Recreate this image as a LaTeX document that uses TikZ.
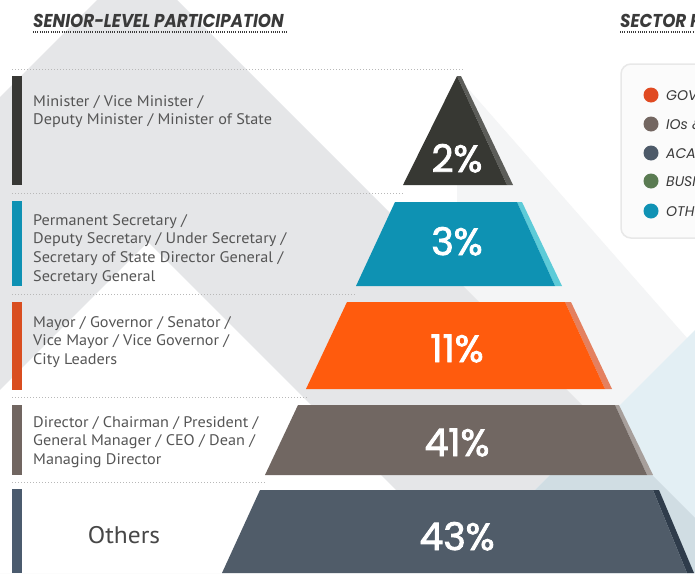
\documentclass[tikz,border=0pt]{standalone}
\usepackage{fontspec}
\setmainfont{PT Sans}
\newfontfamily\pctfont{Poppins}[FakeBold=2.2]
\newfontfamily\headfont{Poppins}[FakeStretch=0.9]
\newfontfamily\legfont{Poppins}
\newfontfamily\lblfont{PT Sans}[FakeStretch=1.06]
\definecolor{shadowc}{HTML}{F4F5F6}
\definecolor{bandc}{HTML}{E5E6E8}
\definecolor{bluec}{HTML}{E3EFF4}
\definecolor{overc}{HTML}{D0DDE3}
\definecolor{dotc}{HTML}{B8B8B8}
\definecolor{labelc}{HTML}{555555}
\definecolor{headc}{HTML}{3A3A3A}
\definecolor{tA}{HTML}{373833}\definecolor{sA}{HTML}{5C5D59}
\definecolor{tB}{HTML}{0E92B3}\definecolor{sB}{HTML}{5DCBD8}
\definecolor{tC}{HTML}{FF5B0D}\definecolor{sC}{HTML}{E4805F}
\definecolor{tD}{HTML}{716762}\definecolor{sD}{HTML}{A79F9B}
\definecolor{tE}{HTML}{505C69}\definecolor{sE}{HTML}{2F3C4B}
\definecolor{barA}{HTML}{383835}
\definecolor{barB}{HTML}{0E91B3}
\definecolor{barC}{HTML}{D94E20}
\definecolor{barD}{HTML}{716661}
\definecolor{barE}{HTML}{4B5B6E}
\definecolor{lgA}{HTML}{E04A22}
\definecolor{lgB}{HTML}{736661}
\definecolor{lgC}{HTML}{4D5A69}
\definecolor{lgD}{HTML}{5A7B52}
\definecolor{lgE}{HTML}{1092B4}
\tikzset{
  dotline/.style={draw=dotc, line width=1pt, dash pattern=on 1pt off 2pt},
  headline/.style={draw=headc, line width=1.2pt, dash pattern=on 1pt off 1.2pt},
  lbl/.style={font={\lblfont\fontsize{15.3}{18.7}\selectfont}, text=labelc, inner sep=0pt, anchor=base west},
  pct/.style={font={\pctfont\fontsize{38}{40}\selectfont}, text=white, inner sep=0pt, anchor=base},
  head/.style={font={\headfont\bfseries\itshape\fontsize{18.6}{20}\selectfont}, text=headc, inner sep=0pt, anchor=base west},
  legtxt/.style={font={\legfont\itshape\fontsize{14}{16}\selectfont}, text=headc, inner sep=0pt, anchor=base west},
  legdot/.style={circle, minimum size=15pt, inner sep=0pt},
}
\begin{document}
\begin{tikzpicture}[x=1pt,y=-1pt]
\useasboundingbox (0,0) rectangle (695,573);
% background
\fill[white] (0,0) rectangle (695,573);
\fill[shadowc] (457,76) -- (680,330) -- (695,347) -- (695,573) -- (457,573) -- cycle;
\fill[bandc] (97,0) -- (177,0) -- (695,518) -- (695,573) -- (0,573) -- (0,97) -- cycle;
\fill[white] (148,242) -- (479,573) -- (0,573) -- (0,390) -- cycle;
\fill[bluec] (695,330) -- (695,573) -- (452,573) -- cycle;
\fill[overc] (601,424) -- (695,518) -- (695,573) -- (479,573) -- (465.5,559.5) -- cycle;
% headers
\node[head] (h1) at (33,27) {SENIOR-LEVEL PARTICIPATION};
\draw[headline] (33,32) -- (287,32);
\node[head] (h2) at (620,27) {SECTOR P};
\draw[headline] (620,32) -- (695,32);
% legend
\draw[draw=black!9, fill=black!1.5, line width=1.5pt, rounded corners=10pt] (621,64) rectangle (730,238);
\node[legdot, fill=lgA] (d1) at (651,95) {};
\node[legdot, fill=lgB] (d2) at (651,124) {};
\node[legdot, fill=lgC] (d3) at (651,153) {};
\node[legdot, fill=lgD] (d4) at (651,181) {};
\node[legdot, fill=lgE] (d5) at (651,211) {};
\node[legtxt] (g1) at (666,100) {GOV};
\node[legtxt] (g2) at (666,129) {IOs \&};
\node[legtxt] (g3) at (666,158) {ACA};
\node[legtxt] (g4) at (666,186) {BUSI};
\node[legtxt] (g5) at (666,216) {OTH};
% dotted separators
\draw[dotline] (12,69) -- (463,69);
\draw[dotline] (12,193) -- (403,193);
\draw[dotline] (12,294) -- (356,294);
\draw[dotline] (12,397) -- (307,397);
\draw[dotline] (12,482) -- (266,482);
% colour bars
\fill[barA] (12,76) rectangle (22,185);
\fill[barB] (12,201) rectangle (22,286);
\fill[barC] (12,302) rectangle (22,390);
\fill[barD] (12,405) rectangle (22,475);
\fill[barE] (12,489) rectangle (22,573);
% pyramid tiers
\fill[sA] (457,76) -- (461,76) -- (513,185) -- (507,185) -- cycle;
\fill[tA] (457,76) -- (507,185) -- (403,185) -- cycle;
\fill[sB] (517,202) -- (522,202) -- (562,286) -- (555,286) -- cycle;
\fill[tB] (395,202) -- (517,202) -- (555,286) -- (356,286) -- cycle;
\fill[sC] (565,302) -- (571,302) -- (612,389) -- (605,389) -- cycle;
\fill[tC] (347,302) -- (565,302) -- (605,389) -- (306,389) -- cycle;
\fill[sD] (615,405) -- (619,405) -- (653,475) -- (647,475) -- cycle;
\fill[tD] (298,405) -- (615,405) -- (647,475) -- (265,475) -- cycle;
\fill[sE] (653,490) -- (659,490) -- (694,573) -- (687,573) -- cycle;
\fill[tE] (260,490) -- (653,490) -- (687,573) -- (222,573) -- cycle;
\node[pct] (p1) at (457,172) {2\%};
\node[pct] (p2) at (457,255) {3\%};
\node[pct] (p3) at (457,362) {11\%};
\node[pct] (p4) at (457,456) {41\%};
\node[pct] (p5) at (457,550) {43\%};
% labels
\node[lbl] (l1) at (33,106) {\begin{tabular}[t]{@{}l@{}}Minister / Vice Minister /\\Deputy Minister / Minister of State\end{tabular}};
\node[lbl] (l2) at (33,225) {\begin{tabular}[t]{@{}l@{}}Permanent Secretary /\\Deputy Secretary / Under Secretary /\\Secretary of State Director General /\\Secretary General\end{tabular}};
\node[lbl] (l3) at (33,327) {\begin{tabular}[t]{@{}l@{}}Mayor / Governor / Senator /\\Vice Mayor / Vice Governor /\\City Leaders\end{tabular}};
\node[lbl] (l4) at (33,427) {\begin{tabular}[t]{@{}l@{}}Director / Chairman / President /\\General Manager / CEO / Dean /\\Managing Director\end{tabular}};
\node[font={\lblfont\fontsize{24}{26}\selectfont}, text=black!72, inner sep=0pt, anchor=base] (l5) at (124,543) {Others};
\end{tikzpicture}
\end{document}
